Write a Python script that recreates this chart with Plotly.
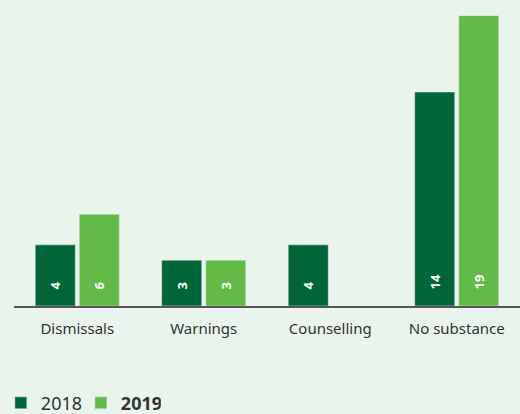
import plotly.graph_objects as go

categories = ["Dismissals", "Warnings", "Counselling", "No substance"]
values_2018 = [4, 3, 4, 14]
values_2019 = [6, 3, None, 19]

dark = "#006638"
light = "#63bb47"
bg = "#e9f5ec"
font_family = "Noto Sans"
pad = "\u00a0\u00a0\u00a0\u00a0"

fig = go.Figure()
fig.add_trace(go.Bar(
    x=categories, y=values_2018, name="2018", marker_color=dark,
    text=[pad + str(v) for v in values_2018], textposition="inside", insidetextanchor="start",
    textangle=-90, textfont=dict(color="white", size=13, family=font_family, weight="bold"),
))
fig.add_trace(go.Bar(
    x=categories, y=values_2019, name="<b>2019</b>", marker_color=light,
    text=[pad + str(v) if v is not None else "" for v in values_2019], textposition="inside",
    insidetextanchor="start", textangle=-90,
    textfont=dict(color="white", size=13, family=font_family, weight="bold"),
))

fig.update_layout(
    width=520, height=414,
    margin=dict(l=14, r=0, t=8, b=108, autoexpand=False),
    paper_bgcolor=bg, plot_bgcolor=bg,
    barmode="group", bargap=0.304, bargroupgap=0.09,
    font=dict(family=font_family, color="#333333"),
    showlegend=True,
    legend=dict(orientation="h", x=-0.026, xanchor="left", y=-0.326, yanchor="middle",
                font=dict(size=18, color="#333333"), itemwidth=30, entrywidth=35,
                bgcolor="rgba(0,0,0,0)", traceorder="normal"),
)
fig.update_xaxes(showline=True, linecolor="#555555", linewidth=1.5,
                 tickfont=dict(size=15, color="#333333"), ticks="",
                 ticklabelstandoff=8, showgrid=False)
fig.update_yaxes(range=[0, 19.5], visible=False, showgrid=False)

fig.write_html("out.html")
